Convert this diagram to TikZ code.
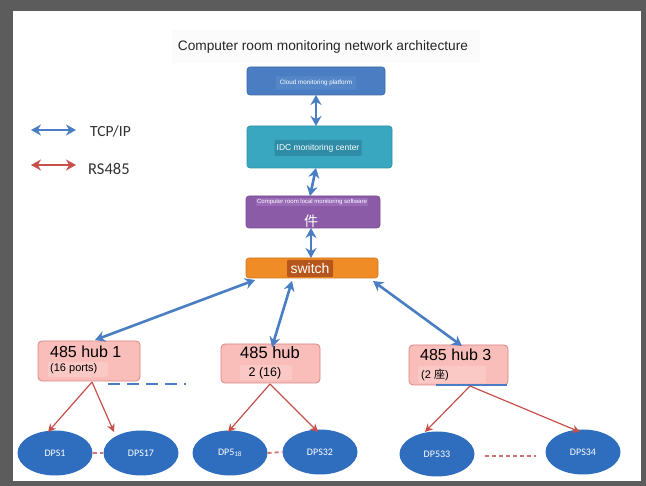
\documentclass[tikz,border=0pt]{standalone}
\usepackage{fontspec}
\setmainfont{Liberation Sans}
\newfontfamily\calib{Carlito}
\newfontfamily\cjkf{Noto Sans CJK SC}
\usetikzlibrary{arrows.meta,shapes.geometric}
\definecolor{frame}{HTML}{5C5C5C}
\definecolor{tcpblue}{HTML}{4A7EC4}
\definecolor{rsred}{HTML}{C8504B}
\definecolor{cloudb}{HTML}{4A7DC2}
\definecolor{cloudin}{HTML}{5587C8}
\definecolor{idc}{HTML}{3AA7C0}
\definecolor{idcin}{HTML}{2F8CA6}
\definecolor{purp}{HTML}{8B5BA8}
\definecolor{purpin}{HTML}{9A6CB8}
\definecolor{orng}{HTML}{F08C26}
\definecolor{orngin}{HTML}{B6561C}
\definecolor{hubfill}{HTML}{F9BDBA}
\definecolor{hubin}{HTML}{FAC9C6}
\definecolor{hubdraw}{HTML}{D98584}
\definecolor{dps}{HTML}{2F6EBE}
\tikzset{
  box/.style={rounded corners=3pt, draw=#1!85!black, fill=#1, line width=0.6pt},
  inlab/.style={fill=#1, rounded corners=1pt, inner sep=1.5pt, text=white},
  hub/.style={rounded corners=4pt, draw=hubdraw, fill=hubfill, line width=0.8pt},
  dpsnode/.style={ellipse, fill=dps, minimum width=75pt, minimum height=45pt, inner sep=0pt, text=white, font=\calib\fontsize{10}{11}\selectfont},
  tcp/.style={draw=tcpblue, line width=2.6pt, {Stealth[length=10pt,width=11pt]}-{Stealth[length=10pt,width=11pt]}},
  rs/.style={draw=rsred, line width=1.2pt, -{Stealth[length=8pt,width=8pt]}},
  rsdash/.style={draw=rsred!80, line width=1.8pt, dash pattern=on 4pt off 3pt},
}
\begin{document}
\begin{tikzpicture}[x=1pt,y=-1pt]
\fill[frame] (0,0) rectangle (646,486);
\useasboundingbox (0,0) rectangle (646,486);
\fill[white] (13,11) rectangle (641,481);
% title band
\fill[black!1.5] (172,30) rectangle (480,63);
\node[font=\fontsize{13.7}{15}\selectfont, text=black!85] (title) at (323,47) {Computer room monitoring network architecture};

% cloud
\draw[box=cloudb] (247,67) rectangle (385,95);
\node[inlab=cloudin, font=\fontsize{6.3}{7}\selectfont, minimum height=13pt, minimum width=80pt] (cloudlab) at (316,83) {Cloud monitoring platform};
\coordinate (cloudB) at (316,95);
% IDC
\draw[box=idc] (247,126) rectangle (392,168);
\node[inlab=idcin, font=\fontsize{8.5}{9}\selectfont, minimum height=16pt, minimum width=87pt] (idclab) at (318,148) {IDC monitoring center};
\coordinate (idcT) at (316,126);
\coordinate (idcB) at (316,168);
% purple
\draw[box=purp] (246,196) rectangle (380,228);
\node[inlab=purpin, font=\fontsize{6}{7}\selectfont, inner sep=1.2pt] (purlab) at (312,202) {Computer room local monitoring software};
\node[text=white, font=\cjkf\fontsize{14}{15}\selectfont, inner sep=0pt] (jian) at (311,221) {件};
\coordinate (purT) at (310,196);
\coordinate (purB) at (311,228);
% switch
\draw[box=orng] (246,258) rectangle (378,278);
\node[inlab=orngin, font=\fontsize{14}{15}\selectfont, minimum height=17pt, minimum width=46pt, inner sep=1pt] (swlab) at (310,268.5) {switch};
\coordinate (swT) at (311,258);
\coordinate (swL) at (255,280);
\coordinate (swM) at (292,281);
\coordinate (swR) at (373,281);

\draw[tcp] (cloudB) -- (idcT);
\draw[tcp] (idcB) -- (purT);
\draw[tcp] (purB) -- (swT);

% hubs
\draw[hub] (38,341) rectangle (140,381);
\fill[hubin, rounded corners=1pt] (48,362) rectangle (108,377);
\node[anchor=west, font=\fontsize{16}{17}\selectfont, inner sep=0pt] (h1a) at (50,352) {485 hub 1};
\node[anchor=west, font=\fontsize{11}{12}\selectfont, inner sep=0pt] (h1b) at (50,369) {(16 ports)};
\coordinate (h1T) at (95,340);
\coordinate (h1B) at (92,382);

\draw[hub] (221,344) rectangle (320,383);
\fill[hubin, rounded corners=1pt] (240,365) rectangle (292,380);
\node[font=\fontsize{16.5}{17}\selectfont, inner sep=0pt] (h2a) at (270,353) {485 hub};
\node[font=\fontsize{12.5}{13}\selectfont, inner sep=0pt] (h2b) at (265,373) {2 (16)};
\coordinate (h2T) at (272,347);
\coordinate (h2B) at (270,384);

\draw[hub] (409,345) rectangle (508,385);
\fill[hubin, rounded corners=1pt] (418,366) rectangle (486,383);
\node[anchor=west, font=\fontsize{16}{17}\selectfont, inner sep=0pt] (h3a) at (420,355) {485 hub 3};
\node[anchor=west, font=\fontsize{11}{12}\selectfont, inner sep=0pt] (h3b) at (421,375) {(2 {\cjkf 座})};
\coordinate (h3T) at (462,346);
\coordinate (h3B) at (470,386);
\draw[tcpblue, line width=1.4pt] (436,385) -- (507,385);

\draw[tcp] (swL) -- (h1T);
\draw[tcp] (swM) -- (h2T);
\draw[tcp] (swR) -- (h3T);

% blue dashed line
\coordinate (bd1) at (108,384);
\coordinate (bd2) at (186,384);
\draw[tcpblue, line width=1.8pt, dash pattern=on 12pt off 7pt] (bd1) -- (bd2);

% DPS
\node[dpsnode] (d1) at (55,453) {DPS1};
\node[dpsnode] (d17) at (141,453) {DPS17};
\node[dpsnode] (d18) at (230,453) {DP5\textsubscript{18}};
\node[dpsnode] (d32) at (320,452) {DPS32};
\node[dpsnode] (d33) at (437,454) {DP533};
\node[dpsnode] (d34) at (583,452) {DPS34};

\draw[rs] (h1B) -- (48,432);
\draw[rs] (h1B) -- (114,432);
\draw[rs] (h2B) -- (228,432);
\draw[rs] (h2B) -- (318,432);
\draw[rs] (h3B) -- (425,432);
\draw[rs] (h3B) -- (580,432);

\draw[rsdash] (d1.east) -- (d17.west);
\draw[rsdash] (d18.east) -- (d32.west);
\coordinate (rd1) at (485,456);
\coordinate (rd2) at (536,456);
\draw[rsdash] (rd1) -- (rd2);

% legend
\coordinate (la1) at (31,130);
\coordinate (la2) at (76,130);
\draw[tcp] (la1) -- (la2);
\node[anchor=west, font=\calib\fontsize{15.5}{16}\selectfont, text=black!80, inner sep=0pt] (ltcp) at (90,131) {TCP/IP};
\coordinate (lb1) at (31,165);
\coordinate (lb2) at (76,165);
\draw[draw=rsred, line width=2.6pt, {Stealth[length=10pt,width=11pt]}-{Stealth[length=10pt,width=11pt]}] (lb1) -- (lb2);
\node[anchor=west, font=\calib\fontsize{16.5}{17}\selectfont, text=black!80, inner sep=0pt] (lrs) at (88,169) {RS485};
\end{tikzpicture}
\end{document}
